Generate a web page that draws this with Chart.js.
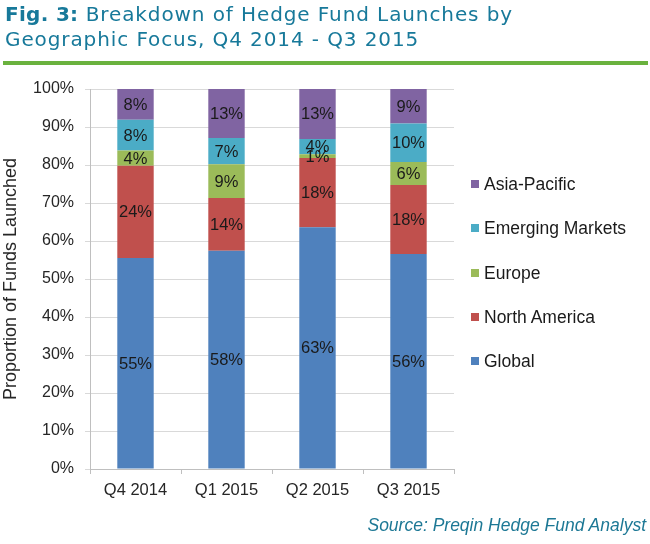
<!DOCTYPE html>
<html lang="en">
<head>
<meta charset="utf-8">
<title>Breakdown of Hedge Fund Launches by Geographic Focus</title>
<script src="https://cdn.jsdelivr.net/npm/chart.js@4.4.1/dist/chart.umd.min.js"></script>
<style>
    html, body { margin: 0; padding: 0; background: #fff; }
    #page { position: relative; width: 650px; height: 544px; overflow: hidden; }
    #chart { position: absolute; left: 0; top: 0; }
    .title {
        position: absolute; left: 5px; top: 2px;
        font-family: "DejaVu Sans", sans-serif; font-size: 20px; line-height: 25px;
        color: #17799a; letter-spacing: 0.9px; white-space: nowrap;
    }
    .title b { font-weight: bold; letter-spacing: 0.3px; }
    .rule { position: absolute; left: 3px; top: 61px; width: 645px; height: 4px; background: #6ab23e; }
    #legend { position: absolute; left: 471px; top: 0; font-family: "Liberation Sans", Arial, sans-serif; font-size: 17.5px; color: #1a1a1a; }
    .item { position: absolute; left: 0; height: 20px; line-height: 20px; white-space: nowrap; }
    .item i { position: absolute; left: 0; top: 6px; width: 8px; height: 8px; }
    .item span { position: absolute; left: 13px; top: 0; }
    .source {
        position: absolute; right: 4px; top: 515px;
        font-family: "Liberation Sans", Arial, sans-serif; font-style: italic; font-size: 17.5px; line-height: 20px;
        color: #1d7895; white-space: nowrap;
    }
</style>
</head>
<body>
<div id="page">
    <canvas id="chart" width="650" height="544"></canvas>
    <div class="title"><b>Fig. 3:</b> Breakdown of Hedge Fund Launches by<br>Geographic Focus, Q4 2014 - Q3 2015</div>
    <div class="rule"></div>
    <div id="legend"></div>
    <div class="source">Source: Preqin Hedge Fund Analyst</div>
</div>
<script>
// shares of fund launches, % (as labelled in the chart)
const categories = ['Q4 2014', 'Q1 2015', 'Q2 2015', 'Q3 2015'];
const globalPct = [55, 58, 63, 56];
const northAmericaPct = [24, 14, 18, 18];
const europePct = [4, 9, 1, 6];
const emergingPct = [8, 7, 4, 10];
const asiaPacificPct = [8, 13, 13, 9];
const yTicks = [0, 10, 20, 30, 40, 50, 60, 70, 80, 90, 100];

const series = [
    { label: 'Global', values: globalPct, color: '#4f81bd' },
    { label: 'North America', values: northAmericaPct, color: '#c0504d' },
    { label: 'Europe', values: europePct, color: '#9bbb59' },
    { label: 'Emerging Markets', values: emergingPct, color: '#4bacc6' },
    { label: 'Asia-Pacific', values: asiaPacificPct, color: '#8064a2' }
];

// 100% stacked: each column is scaled to its own total
const totals = categories.map((c, i) => series.reduce((s, d) => s + d.values[i], 0));

const LABEL_FONT = '"Liberation Sans", Arial, sans-serif';

const segmentLabels = {
    id: 'segmentLabels',
    afterDatasetsDraw(chart) {
        const { ctx } = chart;
        ctx.save();
        ctx.font = '16.5px ' + LABEL_FONT;
        ctx.fillStyle = '#1a1a1a';
        ctx.textAlign = 'center';
        ctx.textBaseline = 'middle';
        chart.data.datasets.forEach((ds, i) => {
            chart.getDatasetMeta(i).data.forEach((bar, j) => {
                const { x, y, base } = bar.getProps(['x', 'y', 'base'], true);
                ctx.fillText(ds.rawValues[j] + '%', x, (y + base) / 2 + 1);
            });
        });
        ctx.restore();
    }
};

const chart = new Chart(document.getElementById('chart'), {
    type: 'bar',
    data: {
        labels: categories,
        datasets: series.map(s => ({
            label: s.label,
            data: s.values.map((v, i) => v / totals[i] * 100),
            rawValues: s.values,
            backgroundColor: s.color,
            borderWidth: 0,
            categoryPercentage: 1,
            barPercentage: 0.4
        }))
    },
    options: {
        responsive: false,
        animation: false,
        layout: { padding: { left: 0, top: 89, right: 196, bottom: 40 } },
        plugins: {
            legend: { display: false },
            tooltip: { enabled: false }
        },
        scales: {
            x: {
                stacked: true,
                afterFit(scale) { scale.height = 35; },
                grid: { drawOnChartArea: false, drawTicks: true, tickLength: 5, color: '#bfbfbf', offset: true },
                border: { color: '#bfbfbf' },
                ticks: { color: '#262626', padding: 7, font: { family: LABEL_FONT, size: 16.5 } }
            },
            y: {
                stacked: true,
                min: 0,
                max: 100,
                afterFit(scale) { scale.width = 90; },
                afterBuildTicks(scale) { scale.ticks = yTicks.map(v => ({ value: v })); },
                grid: { color: '#d9d9d9', tickLength: 5 },
                border: { color: '#bfbfbf' },
                ticks: {
                    color: '#262626', padding: 11,
                    font: { family: LABEL_FONT, size: 16 },
                    callback: v => v + '%'
                },
                title: {
                    display: true,
                    text: 'Proportion of Funds Launched',
                    color: '#262626',
                    padding: { top: 0, bottom: 0 },
                    font: { family: LABEL_FONT, size: 18 }
                }
            }
        }
    },
    plugins: [segmentLabels]
});

// legend, top entry first as in the original
const legend = document.getElementById('legend');
chart.data.datasets.slice().reverse().forEach((ds, k) => {
    const item = document.createElement('div');
    item.className = 'item';
    item.style.top = (174 + k * 44.25) + 'px';
    item.innerHTML = '<i style="background:' + ds.backgroundColor + '"></i><span>' + ds.label + '</span>';
    legend.appendChild(item);
});
</script>
</body>
</html>
